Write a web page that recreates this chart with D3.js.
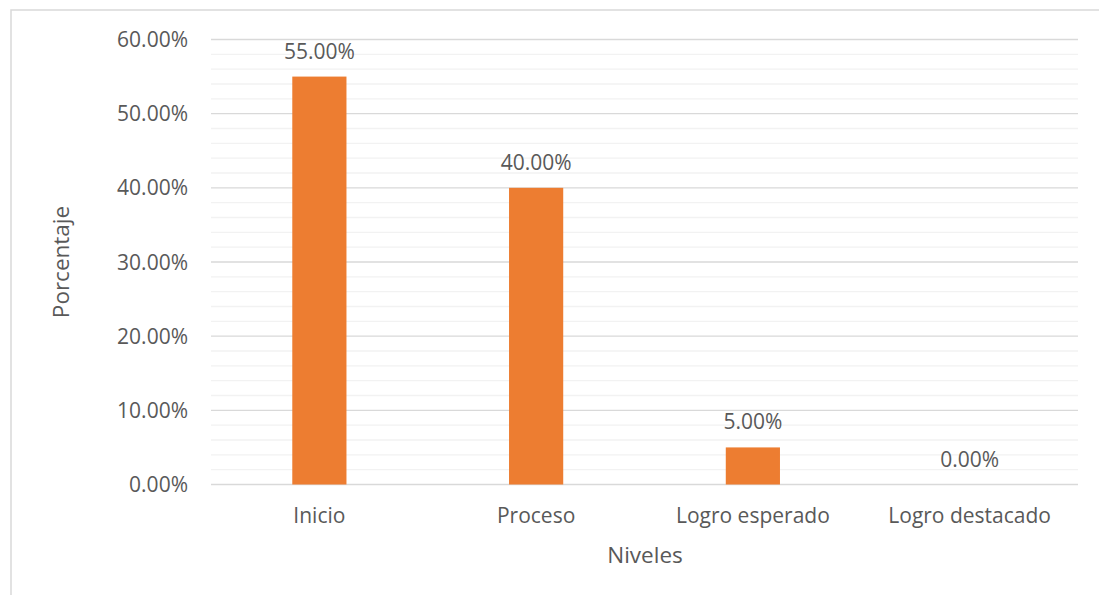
<!DOCTYPE html>
<html>
<head>
<meta charset="utf-8">
<script src="https://cdn.jsdelivr.net/npm/d3@7"></script>
<style>
  html, body { margin: 0; padding: 0; background: #ffffff; }
  svg { display: block; }
  text { font-family: "Open Sans", sans-serif; fill: #595959; }
</style>
</head>
<body>
<svg id="chart" width="1099" height="595"></svg>
<script>
const categories = ["Inicio", "Proceso", "Logro esperado", "Logro destacado"];
const values = [0.55, 0.40, 0.05, 0.00];
const majorTicks = [0, 0.1, 0.2, 0.3, 0.4, 0.5, 0.6];
const minorTicks = [0.02, 0.04, 0.06, 0.08, 0.12, 0.14, 0.16, 0.18, 0.22, 0.24, 0.26, 0.28,
                    0.32, 0.34, 0.36, 0.38, 0.42, 0.44, 0.46, 0.48, 0.52, 0.54, 0.56, 0.58];
const yTitle = "Porcentaje";
const xTitle = "Niveles";

const svg = d3.select("#chart");
const W = 1099, H = 595;
const plot = { left: 211, right: 1078, top: 39.5, bottom: 484.5 };
const fs = 21, fsTitle = 22.5;

// outer chart border
svg.append("rect")
  .attr("x", 11).attr("y", 10)
  .attr("width", W + 20).attr("height", H + 20)
  .attr("fill", "none").attr("stroke", "#d9d9d9").attr("stroke-width", 1.5);

const y = d3.scaleLinear().domain([0, 0.6]).range([plot.bottom, plot.top]);
const x = d3.scaleBand().domain(categories).range([plot.left, plot.right])
  .paddingInner(0.75).paddingOuter(0.375);

const fmt = d3.format(".2%");

// minor gridlines
svg.append("g").selectAll("line").data(minorTicks).join("line")
  .attr("x1", plot.left).attr("x2", plot.right)
  .attr("y1", d => y(d)).attr("y2", d => y(d))
  .attr("stroke", "#f2f2f2").attr("stroke-width", 1.3);

// major gridlines
svg.append("g").selectAll("line").data(majorTicks).join("line")
  .attr("x1", plot.left).attr("x2", plot.right)
  .attr("y1", d => y(d)).attr("y2", d => y(d))
  .attr("stroke", "#d9d9d9").attr("stroke-width", 1.3);

// y tick labels
svg.append("g").selectAll("text").data(majorTicks).join("text")
  .attr("x", 188).attr("y", d => y(d) + 7.5)
  .attr("text-anchor", "end")
  .attr("font-size", fs)
  .text(d => fmt(d));

// bars
svg.append("g").selectAll("rect").data(values).join("rect")
  .attr("x", (d, i) => x(categories[i]))
  .attr("width", x.bandwidth())
  .attr("y", d => y(d))
  .attr("height", d => plot.bottom - y(d))
  .attr("fill", "#ED7D31");

// data labels
svg.append("g").selectAll("text").data(values).join("text")
  .attr("x", (d, i) => x(categories[i]) + x.bandwidth() / 2)
  .attr("y", d => y(d) - 18)
  .attr("text-anchor", "middle")
  .attr("font-size", fs)
  .text(d => fmt(d));

// category labels
svg.append("g").selectAll("text").data(categories).join("text")
  .attr("x", d => x(d) + x.bandwidth() / 2)
  .attr("y", 523)
  .attr("text-anchor", "middle")
  .attr("font-size", fs)
  .text(d => d);

// axis titles
svg.append("text")
  .attr("x", 645).attr("y", 563)
  .attr("text-anchor", "middle")
  .attr("font-size", fsTitle)
  .text(xTitle);

svg.append("text")
  .attr("transform", "translate(69,262) rotate(-90)")
  .attr("text-anchor", "middle")
  .attr("font-size", fsTitle)
  .text(yTitle);
</script>
</body>
</html>
